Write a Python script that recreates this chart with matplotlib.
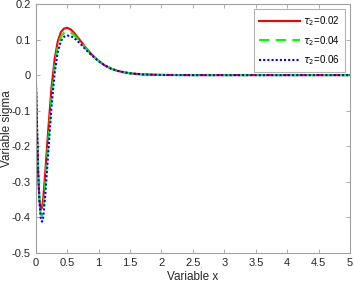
import matplotlib.pyplot as plt

plt.rcParams['font.family'] = ['Liberation Sans', 'DejaVu Sans']

x = [0, 0.02, 0.04, 0.06, 0.08, 0.1, 0.12, 0.15, 0.2, 0.25, 0.3, 0.35, 0.4, 0.45,
     0.5, 0.55, 0.6, 0.7, 0.8, 0.9, 1.0, 1.1, 1.2, 1.3, 1.4, 1.5, 1.7, 2.0, 2.5, 3.0, 4.0, 5.0]

sigma_002 = [0, -0.16, -0.29, -0.355, -0.378, -0.372, -0.345, -0.275, -0.15, -0.035, 0.045, 0.095,
             0.121, 0.131, 0.133, 0.129, 0.121, 0.099, 0.076, 0.056, 0.040, 0.027, 0.018, 0.012,
             0.008, 0.005, 0.002, 0.0005, 0.0, 0.0, 0.0, 0.0]
sigma_004 = [0, -0.15, -0.285, -0.36, -0.392, -0.395, -0.375, -0.31, -0.185, -0.065, 0.025, 0.08,
             0.108, 0.119, 0.122, 0.12, 0.114, 0.095, 0.074, 0.055, 0.040, 0.027, 0.018, 0.012,
             0.008, 0.005, 0.002, 0.0005, 0.0, 0.0, 0.0, 0.0]
sigma_006 = [0, -0.14, -0.275, -0.36, -0.402, -0.412, -0.398, -0.34, -0.215, -0.09, 0.005, 0.065,
             0.096, 0.108, 0.111, 0.11, 0.106, 0.09, 0.071, 0.054, 0.039, 0.027, 0.018, 0.012,
             0.008, 0.005, 0.002, 0.0005, 0.0, 0.0, 0.0, 0.0]

fig = plt.figure(figsize=(3.54, 2.83), dpi=100)
ax = fig.add_axes([0.101, 0.106, 0.888, 0.880])

ax.plot(x, sigma_002, color='#ff0000', lw=1.5, ls='-', label=r'$\tau_2$=0.02')
ax.plot(x, sigma_004, color='#00ff00', lw=1.5, ls=(0, (5, 3)), label=r'$\tau_2$=0.04')
ax.plot(x, sigma_006, color='#0000ff', lw=1.5, ls=(0, (1, 1)), label=r'$\tau_2$=0.06')

ax.set_xlim(0, 5)
ax.set_ylim(-0.5, 0.2)
ax.set_xticks([0, 0.5, 1, 1.5, 2, 2.5, 3, 3.5, 4, 4.5, 5])
ax.set_xticklabels(['0', '0.5', '1', '1.5', '2', '2.5', '3', '3.5', '4', '4.5', '5'])
ax.set_yticks([-0.5, -0.4, -0.3, -0.2, -0.1, 0, 0.1, 0.2])
ax.set_yticklabels(['-0.5', '-0.4', '-0.3', '-0.2', '-0.1', '0', '0.1', '0.2'])

for s in ax.spines.values():
    s.set_color('#a0a0a0')
    s.set_linewidth(0.8)
ax.tick_params(direction='in', length=3, width=0.6, color='#a0a0a0', labelsize=8,
               labelcolor='#262626', top=True, right=True)

ax.set_xlabel('Variable x', fontsize=8.5, color='#262626', labelpad=2)
ax.set_ylabel('Variable sigma', fontsize=8.5, color='#262626')
ax.yaxis.set_label_coords(-0.072, 0.5)

leg = ax.legend(loc='upper right', fontsize=7, frameon=True, fancybox=False,
                handlelength=4.2, borderaxespad=0.55, labelspacing=0.6, handletextpad=0.3,
                borderpad=0.5)
leg.get_frame().set_edgecolor('#a0a0a0')
leg.get_frame().set_linewidth(0.8)

fig.savefig('out.png', dpi=100)
